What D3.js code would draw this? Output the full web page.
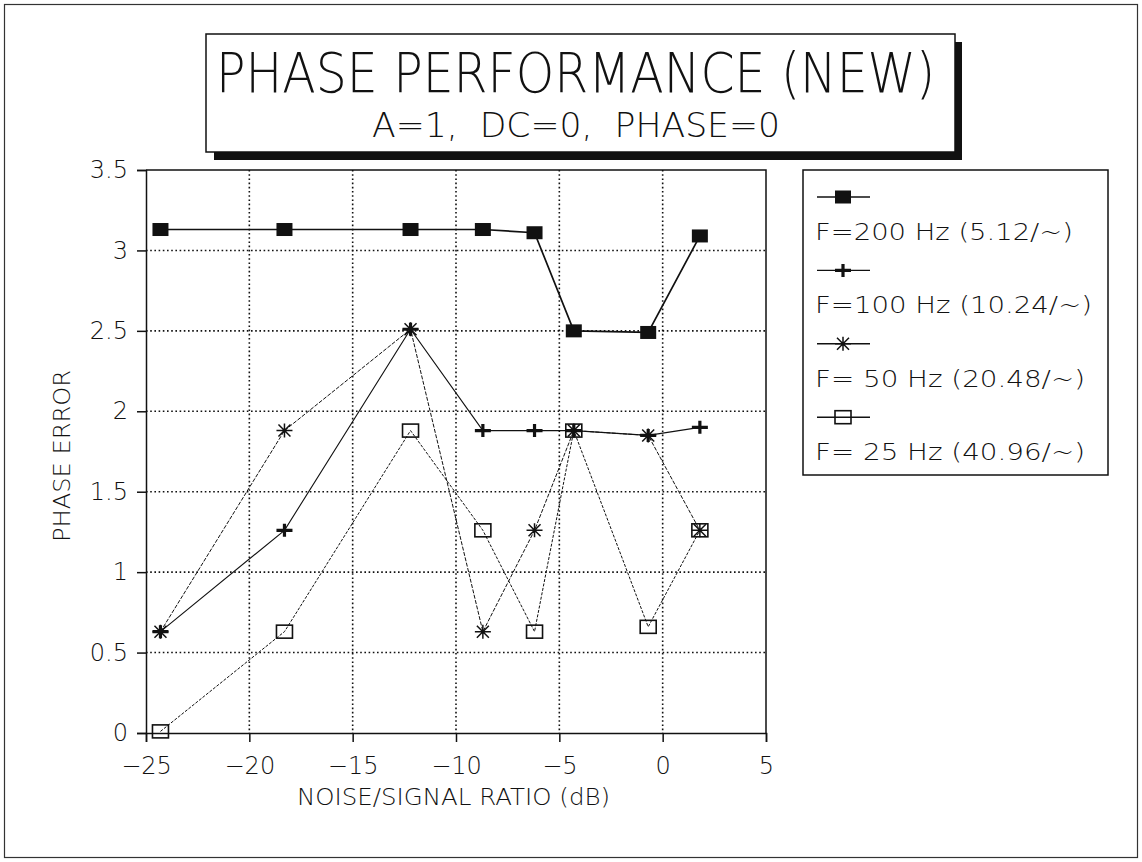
<!DOCTYPE html>
<html>
<head>
<meta charset="utf-8">
<script src="https://cdn.jsdelivr.net/npm/d3@7"></script>
<style>
  html, body { margin: 0; padding: 0; background: #fff; }
  svg { display: block; }
  text { font-family: "DejaVu Sans", "Liberation Sans", sans-serif; font-weight: 200; fill: #111; white-space: pre; }
</style>
</head>
<body>
<svg id="chart" width="1142" height="862"></svg>
<script>
// Noise/signal ratio (dB) at which each run was made
const noiseDb = [-24.3, -18.3, -12.2, -8.7, -6.2, -4.3, -0.7, 1.8];

// Phase error for each test frequency
const err200 = [3.13, 3.13, 3.13, 3.13, 3.11, 2.50, 2.49, 3.09];
const err100 = [0.63, 1.26, 2.51, 1.88, 1.88, 1.88, 1.85, 1.90];
const err50  = [0.63, 1.88, 2.51, 0.63, 1.26, 1.88, 1.85, 1.26];
const err25  = [0.01, 0.63, 1.88, 1.26, 0.63, 1.88, 0.66, 1.26];

const seriesLabels = [
  "F=200 Hz (5.12/~)",
  "F=100 Hz (10.24/~)",
  "F= 50 Hz (20.48/~)",
  "F= 25 Hz (40.96/~)"
];
const markerKinds = ["filledSquare", "plus", "star", "openSquare"];

const xTicks = [-25, -20, -15, -10, -5, 0, 5];
const yTicks = [0, 0.5, 1, 1.5, 2, 2.5, 3, 3.5];

const titleText = "PHASE PERFORMANCE (NEW)";
const subtitleText = "A=1,  DC=0,  PHASE=0";
const xTitle = "NOISE/SIGNAL RATIO (dB)";
const yTitle = "PHASE ERROR";

const series = [err200, err100, err50, err25].map((vals, i) => ({
  label: seriesLabels[i],
  kind: markerKinds[i],
  points: vals.map((v, j) => ({ x: noiseDb[j], y: v }))
}));

const svg = d3.select("#chart");
const ink = "#111";

// outer frame
svg.append("rect")
  .attr("x", 4.5).attr("y", 4.5).attr("width", 1133).attr("height", 853)
  .attr("fill", "none").attr("stroke", "#333").attr("stroke-width", 1.2);

// plot area
const plot = { left: 146, right: 766, top: 170, bottom: 733 };
const x = d3.scaleLinear().domain([-25, 5]).range([plot.left, plot.right]);
const y = d3.scaleLinear().domain([0, 3.5]).range([plot.bottom, plot.top]);

// dotted grid
const grid = svg.append("g").attr("stroke", ink).attr("stroke-width", 1.6)
  .attr("stroke-dasharray", "1.6,2.6");
grid.selectAll(".gx").data(xTicks.filter(t => t > -25 && t < 5)).join("line")
  .attr("x1", d => x(d)).attr("x2", d => x(d))
  .attr("y1", plot.top).attr("y2", plot.bottom);
grid.selectAll(".gy").data(yTicks.filter(t => t > 0 && t < 3.5)).join("line")
  .attr("y1", d => y(d)).attr("y2", d => y(d))
  .attr("x1", plot.left).attr("x2", plot.right);

// axes
const fmt = d3.format("");
const yAxis = svg.append("g").attr("transform", `translate(${plot.left},0)`)
  .call(d3.axisLeft(y).tickValues(yTicks).tickFormat(fmt).tickSize(9).tickPadding(9));
const xAxis = svg.append("g").attr("transform", `translate(0,${plot.bottom})`)
  .call(d3.axisBottom(x).tickValues(xTicks).tickFormat(fmt).tickSize(9).tickPadding(15));
[xAxis, yAxis].forEach(g => {
  g.select(".domain").attr("stroke", ink).attr("stroke-width", 1.5);
  g.selectAll(".tick line").attr("stroke", ink).attr("stroke-width", 1.5);
  g.selectAll(".tick text").attr("fill", ink).style("font-size", "24px")
    .style("font-family", '"DejaVu Sans", sans-serif');
});
// plot border top & right
svg.append("path")
  .attr("d", `M${plot.left},${plot.top}H${plot.right}V${plot.bottom}`)
  .attr("fill", "none").attr("stroke", ink).attr("stroke-width", 1.5);

// axis titles
svg.append("text").text(xTitle)
  .attr("x", 297).attr("y", 805)
  .attr("textLength", 313).attr("lengthAdjust", "spacingAndGlyphs")
  .style("font-size", "23px");
svg.append("text").text(yTitle)
  .attr("transform", "translate(70,456) rotate(-90)")
  .attr("text-anchor", "middle")
  .attr("textLength", 172).attr("lengthAdjust", "spacingAndGlyphs")
  .style("font-size", "23px");

// marker shapes
function drawMarker(g, kind) {
  if (kind === "filledSquare") {
    g.append("rect").attr("x", -8).attr("y", -6.5).attr("width", 16).attr("height", 13)
      .attr("fill", ink);
  } else if (kind === "openSquare") {
    g.append("rect").attr("x", -8).attr("y", -6.5).attr("width", 16).attr("height", 13)
      .attr("fill", "none").attr("stroke", ink).attr("stroke-width", 1.6);
  } else if (kind === "plus") {
    g.append("path").attr("d", "M-8,0H8M0,-6.5V6.5")
      .attr("stroke", ink).attr("stroke-width", 3.2);
  } else if (kind === "star") {
    g.append("path").attr("d", "M-8,0H8M0,-7V7M-6,-6L6,6M-6,6L6,-6")
      .attr("stroke", ink).attr("stroke-width", 1.5);
  }
}

const lineGen = d3.line().x(d => x(d.x)).y(d => y(d.y));
const lineStyle = {
  filledSquare: { w: 1.7, dash: null },
  plus: { w: 1.1, dash: null },
  star: { w: 1.0, dash: "4,1.5" },
  openSquare: { w: 1.0, dash: "3,1.5" }
};

// draw lines first, then markers on top
series.slice().reverse().forEach(s => {
  svg.append("path").datum(s.points)
    .attr("d", lineGen)
    .attr("fill", "none").attr("stroke", ink)
    .attr("stroke-width", lineStyle[s.kind].w)
    .attr("stroke-dasharray", lineStyle[s.kind].dash);
});
series.slice().reverse().forEach(s => {
  svg.append("g").selectAll("g").data(s.points).join("g")
    .attr("transform", d => `translate(${x(d.x)},${y(d.y)})`)
    .each(function () { drawMarker(d3.select(this), s.kind); });
});

// title box with drop shadow
svg.append("rect").attr("x", 214).attr("y", 42).attr("width", 748).attr("height", 118)
  .attr("fill", ink);
svg.append("rect").attr("x", 206).attr("y", 34).attr("width", 749).attr("height", 118)
  .attr("fill", "#fff").attr("stroke", ink).attr("stroke-width", 1.5);
svg.append("text").text(titleText)
  .attr("x", 216).attr("y", 92)
  .attr("textLength", 719).attr("lengthAdjust", "spacingAndGlyphs")
  .style("font-size", "55px");
svg.append("text").text(subtitleText)
  .attr("x", 372).attr("y", 137)
  .attr("textLength", 408).attr("lengthAdjust", "spacingAndGlyphs")
  .style("font-size", "33px");

// legend
const legend = svg.append("g");
legend.append("rect").attr("x", 803).attr("y", 170).attr("width", 305).attr("height", 305)
  .attr("fill", "#fff").attr("stroke", ink).attr("stroke-width", 1.5);
const legendWidths = [258, 277, 270, 270];
series.forEach((s, i) => {
  const cy = 197 + i * 73.4;
  legend.append("line").attr("x1", 817).attr("x2", 870).attr("y1", cy).attr("y2", cy)
    .attr("stroke", ink).attr("stroke-width", 1.4);
  const m = legend.append("g").attr("transform", `translate(843,${cy})`);
  drawMarker(m, s.kind);
  legend.append("text").text(s.label)
    .attr("x", 815).attr("y", cy + 43)
    .attr("textLength", legendWidths[i]).attr("lengthAdjust", "spacingAndGlyphs")
    .style("font-size", "23px");
});
</script>
</body>
</html>
